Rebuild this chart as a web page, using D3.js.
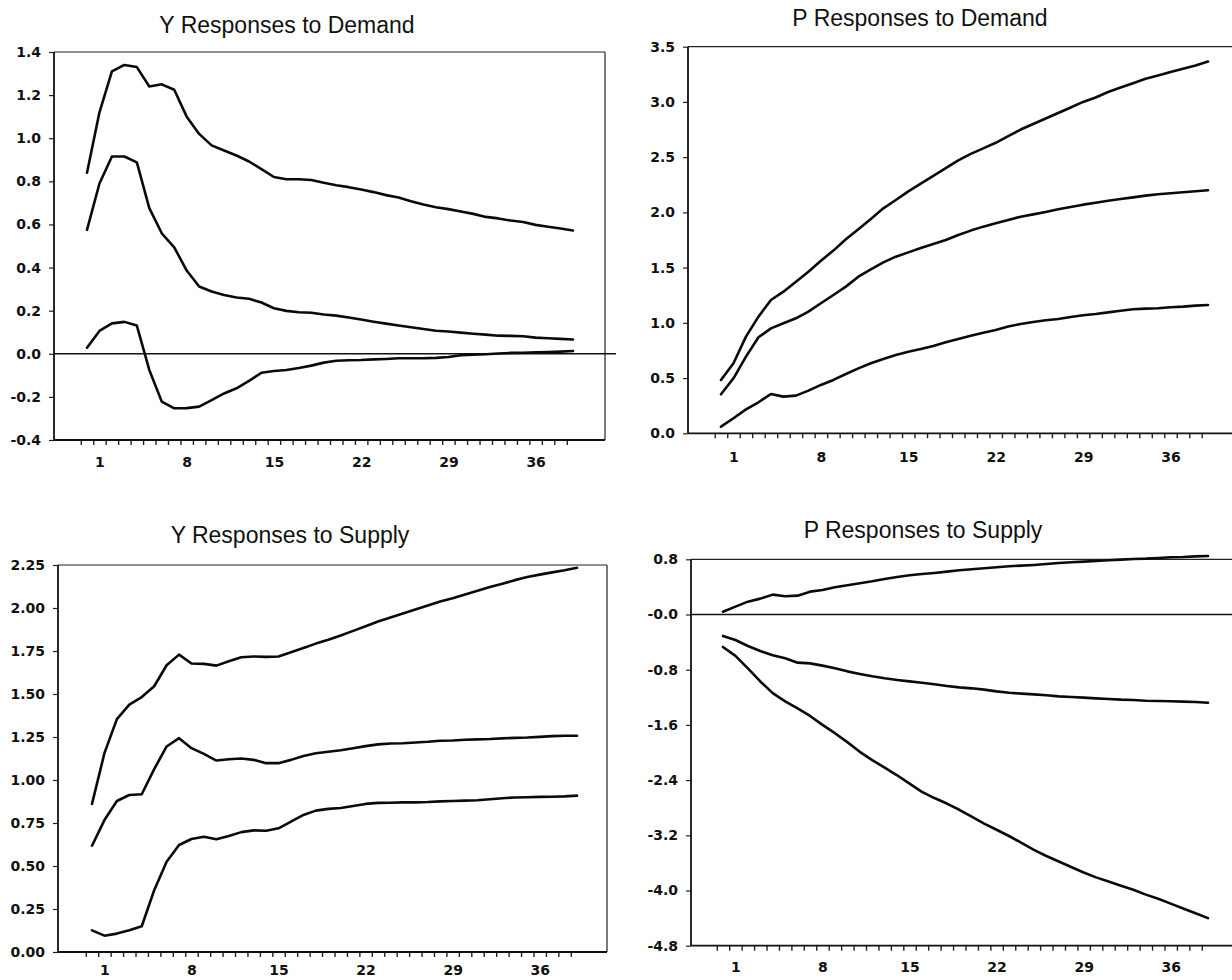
<!DOCTYPE html>
<html>
<head>
<meta charset="utf-8">
<script src="https://cdn.jsdelivr.net/npm/d3@7"></script>
<style>
  html, body { margin: 0; padding: 0; background: #ffffff; }
  svg { display: block; }
  .title { font-family: "Liberation Sans", Arial, Helvetica, sans-serif; font-size: 23px; fill: #111; }
  .tick text { font-family: "DejaVu Sans", sans-serif; font-weight: bold; font-size: 14px; fill: #111; }
</style>
</head>
<body>
<svg id="chart" width="1232" height="980"></svg>
<script>
// ---------------- data ----------------
const periods = [0,1,2,3,4,5,6,7,8,9,10,11,12,13,14,15,16,17,18,19,20,21,22,23,24,25,26,27,28,29,30,31,32,33,34,35,36,37,38,39];
const xTickLabels = [1, 8, 15, 22, 29, 36];

// Y responses to demand
const yDemandUpper = [0.84,1.12,1.31,1.34,1.33,1.24,1.25,1.225,1.10,1.02,0.967,0.943,0.920,0.892,0.857,0.820,0.810,0.810,0.806,0.793,0.782,0.773,0.762,0.750,0.736,0.725,0.708,0.693,0.680,0.671,0.660,0.649,0.635,0.628,0.618,0.611,0.598,0.589,0.581,0.572];
const yDemandMid   = [0.575,0.79,0.915,0.915,0.888,0.676,0.559,0.494,0.386,0.312,0.289,0.273,0.261,0.255,0.238,0.211,0.199,0.193,0.190,0.182,0.177,0.168,0.159,0.149,0.140,0.131,0.123,0.115,0.107,0.103,0.098,0.093,0.089,0.084,0.083,0.081,0.075,0.072,0.069,0.066];
const yDemandLower = [0.028,0.106,0.141,0.148,0.131,-0.075,-0.222,-0.253,-0.252,-0.245,-0.215,-0.184,-0.160,-0.126,-0.088,-0.080,-0.075,-0.066,-0.055,-0.041,-0.032,-0.030,-0.029,-0.026,-0.024,-0.021,-0.021,-0.021,-0.019,-0.015,-0.007,-0.004,-0.002,0.001,0.004,0.005,0.007,0.008,0.010,0.013];
const yDemandTicks  = [-0.4,-0.2,0.0,0.2,0.4,0.6,0.8,1.0,1.2,1.4];
const yDemandLabels = ["-0.4","-0.2","0.0","0.2","0.4","0.6","0.8","1.0","1.2","1.4"];

// P responses to demand
const pDemandUpper = [0.483,0.634,0.875,1.056,1.207,1.282,1.373,1.463,1.563,1.654,1.756,1.847,1.940,2.037,2.112,2.19,2.26,2.33,2.40,2.47,2.53,2.58,2.63,2.69,2.75,2.80,2.85,2.90,2.95,3.00,3.04,3.09,3.13,3.17,3.21,3.24,3.27,3.30,3.33,3.365];
const pDemandMid   = [0.353,0.498,0.694,0.869,0.950,0.996,1.041,1.101,1.177,1.252,1.328,1.418,1.485,1.548,1.599,1.638,1.678,1.714,1.750,1.795,1.835,1.871,1.901,1.931,1.961,1.982,2.004,2.028,2.049,2.070,2.088,2.106,2.121,2.136,2.152,2.164,2.173,2.182,2.191,2.200];
const pDemandLower = [0.060,0.136,0.217,0.281,0.356,0.332,0.341,0.386,0.438,0.483,0.537,0.588,0.634,0.673,0.709,0.739,0.763,0.791,0.824,0.854,0.884,0.911,0.935,0.966,0.990,1.008,1.023,1.035,1.053,1.068,1.080,1.095,1.110,1.123,1.129,1.132,1.141,1.147,1.156,1.162];
const pDemandTicks  = [0.0,0.5,1.0,1.5,2.0,2.5,3.0,3.5];
const pDemandLabels = ["0.0","0.5","1.0","1.5","2.0","2.5","3.0","3.5"];

// Y responses to supply
const ySupplyUpper = [0.861,1.156,1.354,1.438,1.482,1.545,1.667,1.729,1.677,1.675,1.665,1.690,1.714,1.718,1.716,1.718,1.743,1.768,1.793,1.815,1.840,1.867,1.894,1.922,1.945,1.968,1.991,2.015,2.038,2.057,2.079,2.100,2.122,2.141,2.162,2.180,2.194,2.207,2.219,2.234];
const ySupplyMid   = [0.618,0.767,0.878,0.913,0.917,1.063,1.195,1.243,1.185,1.152,1.113,1.121,1.125,1.117,1.098,1.098,1.117,1.140,1.156,1.164,1.173,1.185,1.197,1.207,1.212,1.214,1.218,1.222,1.228,1.230,1.234,1.236,1.238,1.242,1.245,1.247,1.251,1.255,1.257,1.257];
const ySupplyLower = [0.126,0.095,0.107,0.126,0.150,0.359,0.525,0.622,0.657,0.670,0.655,0.674,0.697,0.707,0.705,0.719,0.758,0.797,0.822,0.832,0.837,0.849,0.861,0.867,0.868,0.870,0.870,0.872,0.876,0.878,0.880,0.882,0.888,0.894,0.898,0.900,0.902,0.903,0.905,0.909];
const ySupplyTicks  = [0.00,0.25,0.50,0.75,1.00,1.25,1.50,1.75,2.00,2.25];
const ySupplyLabels = ["0.00","0.25","0.50","0.75","1.00","1.25","1.50","1.75","2.00","2.25"];

// P responses to supply
const pSupplyUpper = [0.041,0.114,0.186,0.230,0.288,0.264,0.273,0.331,0.355,0.394,0.423,0.452,0.481,0.515,0.544,0.568,0.587,0.602,0.621,0.641,0.655,0.670,0.684,0.699,0.708,0.718,0.732,0.747,0.757,0.766,0.776,0.786,0.795,0.805,0.810,0.819,0.829,0.834,0.843,0.848];
const pSupplyMid   = [-0.311,-0.369,-0.456,-0.529,-0.592,-0.635,-0.698,-0.708,-0.741,-0.780,-0.824,-0.862,-0.896,-0.925,-0.949,-0.969,-0.988,-1.012,-1.036,-1.056,-1.070,-1.089,-1.114,-1.133,-1.147,-1.157,-1.171,-1.186,-1.196,-1.205,-1.215,-1.225,-1.234,-1.239,-1.249,-1.254,-1.258,-1.263,-1.268,-1.278];
const pSupplyLower = [-0.47,-0.60,-0.78,-0.97,-1.14,-1.26,-1.36,-1.47,-1.60,-1.72,-1.85,-1.99,-2.11,-2.22,-2.33,-2.45,-2.57,-2.66,-2.74,-2.83,-2.93,-3.03,-3.12,-3.21,-3.31,-3.41,-3.50,-3.58,-3.66,-3.74,-3.81,-3.87,-3.93,-3.99,-4.06,-4.12,-4.19,-4.26,-4.33,-4.40];
const pSupplyTicks  = [-4.8,-4.0,-3.2,-2.4,-1.6,-0.8,0.0,0.8];
const pSupplyLabels = ["-4.8","-4.0","-3.2","-2.4","-1.6","-0.8","-0.0","0.8"];

// minor ticks sit between periods
const xMinorTicks = periods.map(p => p - 0.5);

// ---------------- layout ----------------
const panels = [
  { title: "Y Responses to Demand", tx: 287, ty: 33,
    axisX: 54, right: 605, rightBorder: true, top: 52, bottom: 440, px0: 87, px1: 573, labelPad: 17,
    yDomain: [-0.4, 1.4], ticks: yDemandTicks, labels: yDemandLabels,
    series: [yDemandUpper, yDemandMid, yDemandLower], zero: true, zeroEnd: 616 },
  { title: "P Responses to Demand", tx: 920, ty: 26,
    axisX: 688, right: 1232, rightBorder: false, top: 46.7, bottom: 433.3, px0: 721, px1: 1208, labelPad: 19,
    yDomain: [0, 3.5], ticks: pDemandTicks, labels: pDemandLabels,
    series: [pDemandUpper, pDemandMid, pDemandLower], zero: false },
  { title: "Y Responses to Supply", tx: 290, ty: 543,
    axisX: 58, right: 607, rightBorder: true, top: 565, bottom: 952, px0: 92, px1: 577, labelPad: 13,
    yDomain: [0, 2.25], ticks: ySupplyTicks, labels: ySupplyLabels,
    series: [ySupplyUpper, ySupplyMid, ySupplyLower], zero: false },
  { title: "P Responses to Supply", tx: 923, ty: 538,
    axisX: 691, right: 1232, rightBorder: false, top: 559.3, bottom: 945.7, px0: 723, px1: 1208, labelPad: 16,
    yDomain: [-4.8, 0.8], ticks: pSupplyTicks, labels: pSupplyLabels,
    series: [pSupplyUpper, pSupplyMid, pSupplyLower], zero: true, zeroEnd: 1232 }
];

const svg = d3.select("#chart");

panels.forEach(cfg => {
  const g = svg.append("g");
  const x = d3.scaleLinear().domain([0, 39]).range([cfg.px0, cfg.px1]);
  const y = d3.scaleLinear().domain(cfg.yDomain).range([cfg.bottom, cfg.top]);

  // title
  g.append("text").attr("class", "title")
    .attr("x", cfg.tx).attr("y", cfg.ty).attr("text-anchor", "middle")
    .text(cfg.title);

  // frame: top border & right border (thin)
  g.append("line").attr("x1", cfg.axisX).attr("x2", cfg.right)
    .attr("y1", cfg.top).attr("y2", cfg.top)
    .attr("stroke", "#222").attr("stroke-width", 1.2);
  if (cfg.rightBorder) {
    g.append("line").attr("x1", cfg.right).attr("x2", cfg.right)
      .attr("y1", cfg.top).attr("y2", cfg.bottom)
      .attr("stroke", "#222").attr("stroke-width", 1.2);
  }

  // y axis
  const yAxis = d3.axisLeft(y).tickValues(cfg.ticks)
    .tickFormat((d, i) => cfg.labels[i]).tickSize(5).tickPadding(8).tickSizeOuter(0);
  const ya = g.append("g").attr("transform", `translate(${cfg.axisX},0)`).call(yAxis);
  ya.select(".domain").remove();
  ya.selectAll(".tick line").attr("stroke", "#222").attr("stroke-width", 1.2);

  // x axis minor ticks
  const xAxisTicks = d3.axisBottom(x).tickValues(xMinorTicks).tickFormat("").tickSize(5).tickSizeOuter(0);
  const xa = g.append("g").attr("transform", `translate(0,${cfg.bottom})`).call(xAxisTicks);
  xa.select(".domain").remove();
  xa.selectAll(".tick line").attr("stroke", "#222").attr("stroke-width", 1.4);

  // x axis labels
  const xAxisLabels = d3.axisBottom(x).tickValues(xTickLabels).tickSize(0).tickPadding(cfg.labelPad).tickSizeOuter(0);
  const xl = g.append("g").attr("transform", `translate(0,${cfg.bottom})`).call(xAxisLabels);
  xl.select(".domain").remove();

  // axis lines (left and bottom, heavier)
  g.append("line").attr("x1", cfg.axisX).attr("x2", cfg.axisX)
    .attr("y1", cfg.top).attr("y2", cfg.bottom)
    .attr("stroke", "#111").attr("stroke-width", 1.8);
  g.append("line").attr("x1", cfg.axisX).attr("x2", cfg.right)
    .attr("y1", cfg.bottom).attr("y2", cfg.bottom)
    .attr("stroke", "#111").attr("stroke-width", 1.8);

  // zero line
  if (cfg.zero) {
    g.append("line").attr("x1", cfg.axisX).attr("x2", cfg.zeroEnd)
      .attr("y1", y(0)).attr("y2", y(0))
      .attr("stroke", "#111").attr("stroke-width", 1.4);
  }

  // series lines
  const line = d3.line().x((d, i) => x(periods[i])).y(d => y(d));
  cfg.series.forEach(s => {
    g.append("path").datum(s)
      .attr("d", line)
      .attr("fill", "none")
      .attr("stroke", "#0a0a0a")
      .attr("stroke-width", 2.6)
      .attr("stroke-linejoin", "round")
      .attr("stroke-linecap", "round");
  });
});
</script>
</body>
</html>
